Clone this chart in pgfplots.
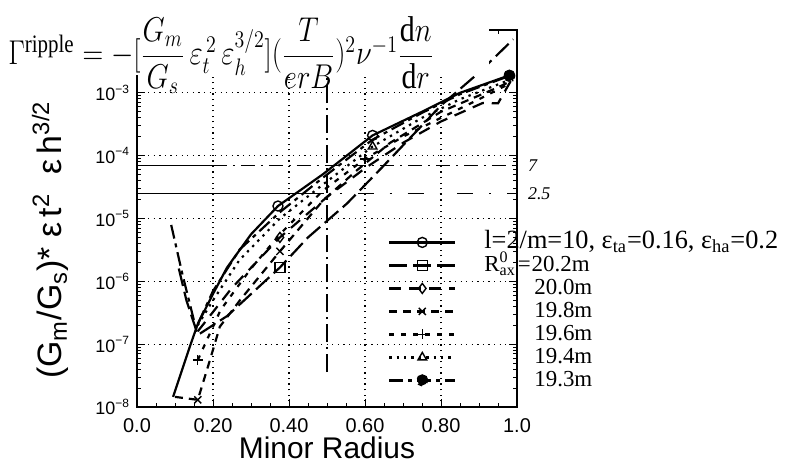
\documentclass[border=0pt]{standalone}
\usepackage{fontspec}
\setmainfont{Liberation Serif}
\setsansfont{Liberation Sans}
\usepackage{amsmath}
\usepackage{pgfplots}
\pgfplotsset{compat=1.18}

\begin{document}
\begin{tikzpicture}
\path (-68.5bp,-30.5bp) rectangle (324bp,203.5bp);
\begin{axis}[
  scale only axis,
  width=190bp, height=188.5bp,
  anchor=south west, at={(0,0)},
  ymode=log,
  xmin=0, xmax=1, ymin=1e-8, ymax=1e-2,
  xtick={0,0.2,0.4,0.6,0.8,1},
  xticklabels={0.0,0.20,0.40,0.60,0.80,1.0},
  minor x tick num=3,
  ytick={1e-8,1e-7,1e-6,1e-5,1e-4,1e-3},
  yticklabels={10\textsuperscript{−8},10\textsuperscript{−7},10\textsuperscript{−6},10\textsuperscript{−5},10\textsuperscript{−4},10\textsuperscript{−3}},
  tick align=inside,
  major tick length=4bp, minor tick length=2bp,
  every tick/.style={black, line width=0.5pt},
  axis line style={line width=0.8pt},
  grid=major,
  major grid style={black, line width=0.6pt, dash pattern=on 0.6pt off 2.2pt},
  tick label style={font=\sffamily\fontsize{9}{10}\selectfont},
  xticklabel style={font=\sffamily\fontsize{10}{11}\selectfont, inner sep=0.5bp, yshift=-5bp},
  xlabel={Minor Radius},
  xlabel style={at={(axis description cs:0.5,-0.108)}, anchor=center, inner sep=0pt, font=\sffamily\fontsize{15}{16}\selectfont},
  ylabel={(G\textsubscript{m}/G\textsubscript{s})*\ ε\,t\textsuperscript{2}\ \ ε\,h\textsuperscript{3/2}},
  ylabel style={at={(axis description cs:-0.228,0.443)}, anchor=center, rotate=0, font=\sffamily\fontsize{17}{20}\selectfont},
  clip=false,
  legend style={at={(0.66,0.4615)}, anchor=north west, draw=none, fill=none,
    inner sep=0pt, row sep=2.5bp, column sep=5bp,
    nodes={inner sep=0pt, text height=7.5bp, text depth=1.5bp},
    font=\fontsize{11.5}{12}\selectfont},
  legend cell align=left,
  legend image code/.code={\draw[#1, mark indices={2}] plot coordinates {(0bp,0bp) (16.5bp,0bp) (33bp,0bp)};},
  every axis plot/.append style={black, line width=1.1pt, mark size=2.5bp, mark options={solid, fill=white, line width=0.7pt}},
]
% l=2/m=10 reference case
\addplot[mark=o, mark indices={7,9,12}]
  coordinates {(0.095,1.45e-8) (0.14,9.5e-8) (0.16,2.1e-7) (0.2,6.3e-7) (0.237,1.66e-6) (0.3,5.6e-6) (0.371,1.58e-5) (0.49,5.1e-5) (0.62,2.1e-4) (0.75,5.0e-4) (0.85,1.0e-3) (0.98,1.9e-3)};
\addlegendentry{\hspace*{9bp}\fontsize{13.2}{14}\selectfont l=2/m=10, ε\textsubscript{ta}=0.16, ε\textsubscript{ha}=0.2}
% 20.2m
\addplot[mark=square, mark indices={5}, dash pattern=on 9pt off 3pt]
  coordinates {(0.11,1.6e-6) (0.13,5e-7) (0.16,1.4e-7) (0.237,2.8e-7) (0.376,1.66e-6) (0.45,5e-6) (0.553,1.74e-5) (0.65,7e-5) (0.8,6.3e-4) (0.9,2.1e-3) (0.99,7.1e-3)};
\addlegendentry{\hspace*{9bp}R\rlap{\textsuperscript{0}}\textsubscript{ax}\hspace{1bp}=\hspace{0.5bp}20.2m}
% 20.0m
\addplot[mark=diamond, mark indices={3}, dash pattern=on 6pt off 4pt]
  coordinates {(0.16,1.6e-7) (0.25,7.9e-7) (0.376,5e-6) (0.5,2.2e-5) (0.6,6.3e-5) (0.7,1.6e-4) (0.8,3.5e-4) (0.91,6.9e-4) (0.95,6.8e-4) (0.99,1.8e-3)};
\addlegendentry{\hspace*{34bp}20.0m}
% 19.8m
\addplot[mark=x, mark indices={2,6}, dash pattern=on 4pt off 3pt]
  coordinates {(0.1,1.45e-8) (0.16,1.3e-8) (0.192,5.6e-8) (0.218,1.9e-7) (0.271,5e-7) (0.376,3e-6) (0.49,1.95e-5) (0.578,5.8e-5) (0.666,1.6e-4) (0.8,5e-4) (0.947,1.2e-3) (0.99,1.6e-3)};
\addlegendentry{\hspace*{34bp}19.8m}
% 19.6m
\addplot[mark=+, mark indices={1,6}, dash pattern=on 2.5pt off 3.5pt]
  coordinates {(0.16,5.6e-8) (0.22,3.5e-7) (0.3,1.6e-6) (0.376,5.6e-6) (0.49,2.8e-5) (0.6,8.9e-5) (0.7,2e-4) (0.8,4e-4) (0.9,7.9e-4) (0.98,1.4e-3)};
\addlegendentry{\hspace*{34bp}19.6m}
% 19.4m
\addplot[mark=triangle, mark indices={6}, dash pattern=on 1.2pt off 2.5pt]
  coordinates {(0.16,2e-7) (0.2,5e-7) (0.27,2.2e-6) (0.376,1e-5) (0.49,3.5e-5) (0.62,1.4e-4) (0.75,4e-4) (0.85,7.9e-4) (0.98,1.6e-3)};
\addlegendentry{\hspace*{34bp}19.4m}
% 19.3m
\addplot[mark=*, mark indices={11}, mark options={fill=black}, dash pattern=on 7pt off 2.5pt on 2pt off 2.5pt]
  coordinates {(0.09,7.9e-6) (0.12,1.26e-6) (0.155,1.8e-7) (0.2,7e-7) (0.27,3.2e-6) (0.376,1.26e-5) (0.49,4.5e-5) (0.62,1.8e-4) (0.75,4.8e-4) (0.85,9.5e-4) (0.98,1.86e-3)};
\addlegendentry{\hspace*{34bp}19.3m}
% reference levels
\addplot[forget plot, line width=0.7pt] coordinates {(0,7e-5) (0.2,7e-5)};
\addplot[forget plot, line width=0.7pt, dash pattern=on 7pt off 3pt on 1pt off 3pt] coordinates {(0.2,7e-5) (1,7e-5)};
\addplot[forget plot, line width=0.7pt] coordinates {(0,2.5e-5) (0.45,2.5e-5)};
\addplot[forget plot, line width=0.7pt, dash pattern=on 8pt off 8pt on 1pt off 8pt] coordinates {(0.45,2.5e-5) (1,2.5e-5)};
\addplot[forget plot, line width=0.6pt, dash pattern=on 9pt off 2.5pt on 1pt off 2.5pt] coordinates {(0.5,3.6e-8) (0.5,1e-2)};
\node[anchor=west, font=\itshape\fontsize{9}{10}\selectfont] at (axis cs:1,7e-5) {\hspace{2bp}7};
\node[anchor=west, font=\itshape\fontsize{9}{10}\selectfont] at (axis cs:1,2.5e-5) {\hspace{2bp}2.5};
\end{axis}
% formula pasted over the top of the frame
\fill[white] (-68.5bp,166bp) rectangle (176bp,203.5bp);
\node[anchor=base west, inner sep=0pt, xscale=0.834, transform shape, font=\fontsize{18}{20}\selectfont] at (-64.5bp,171bp)
  {$\Gamma^{\mathrm{ripple}} = -[\dfrac{G_m}{G_s}\,\varepsilon_t^{\,2}\,\varepsilon_h^{3/2}](\dfrac{T}{erB})^2\nu^{-1}\dfrac{\mathrm{d}n}{\mathrm{d}r}$};
\end{tikzpicture}
\end{document}
